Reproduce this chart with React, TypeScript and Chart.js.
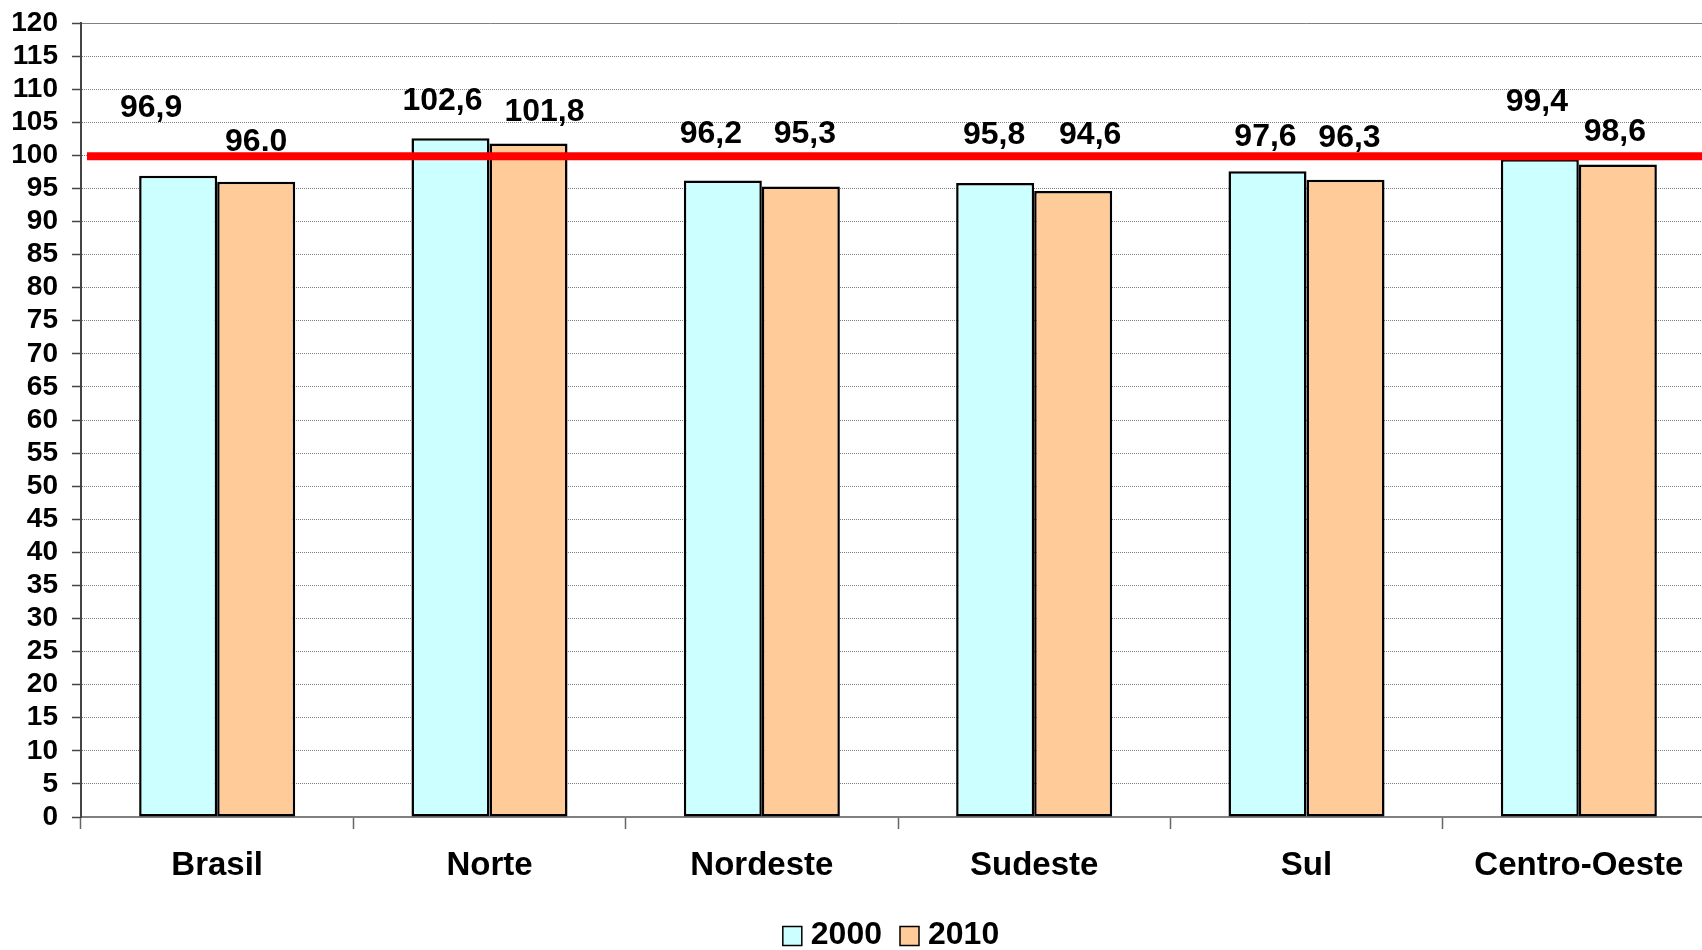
import React, { useEffect, useRef } from "react";
import { Chart, registerables } from "chart.js";

Chart.register(...registerables);

const categories = ["Brasil", "Norte", "Nordeste", "Sudeste", "Sul", "Centro-Oeste"];
const seriesNames = ["2000", "2010"];
const values2000 = [96.9, 102.6, 96.2, 95.8, 97.6, 99.4];
const values2010 = [96.0, 101.8, 95.3, 94.6, 96.3, 98.6];
const labels2000 = ["96,9", "102,6", "96,2", "95,8", "97,6", "99,4"];
const labels2010 = ["96.0", "101,8", "95,3", "94,6", "96,3", "98,6"];
const referenceValue = 100;
const yMin = 0;
const yMax = 120;
const yStep = 5;

// manual label placement (px offsets from the top-centre of each bar), as moved in the original
const labelOffset2000 = [[-27, -68], [-8, -37], [-12, -46], [-1, -48], [-2, -34], [-3, -57]];
const labelOffset2010 = [[0, -40], [16, -31], [4, -52], [17, -56], [4, -42], [-3, -32]];

const colors = ["#CCFFFF", "#FFCC99"];
const FONT = '"Liberation Sans", Arial, Helvetica, sans-serif';

const overlayPlugin = {
  id: "overlay",
  afterDatasetsDraw(chart: any) {
    const ctx = chart.ctx;
    const { left, right } = chart.chartArea;
    ctx.save();
    ctx.font = `bold 32px ${FONT}`;
    ctx.fillStyle = "#000";
    ctx.textAlign = "center";
    ctx.textBaseline = "middle";
    [labels2000, labels2010].forEach((labs, di) => {
      const meta = chart.getDatasetMeta(di);
      const offs = di === 0 ? labelOffset2000 : labelOffset2010;
      meta.data.forEach((bar: any, i: number) => {
        ctx.fillText(labs[i], bar.x + offs[i][0], bar.y + offs[i][1]);
      });
    });
    const yr = chart.scales.y.getPixelForValue(referenceValue) + 1;
    ctx.strokeStyle = "#FF0000";
    ctx.lineWidth = 8;
    ctx.beginPath();
    ctx.moveTo(left + 6, yr);
    ctx.lineTo(right, yr);
    ctx.stroke();
    ctx.restore();
  },
  afterDraw(chart: any) {
    const ctx = chart.ctx;
    const { left, right } = chart.chartArea;
    ctx.save();
    ctx.font = `bold 32px ${FONT}`;
    ctx.textBaseline = "middle";
    ctx.textAlign = "left";
    const box = 19;
    const gapText = 9;
    const gapItem = 18;
    const widths = seriesNames.map((s) => ctx.measureText(s).width);
    const total = widths.reduce((a, w) => a + box + gapText + w, 0) + gapItem * (seriesNames.length - 1);
    let x = (left + right) / 2 - 7 - total / 2;
    const yc = chart.height - 15;
    seriesNames.forEach((s, i) => {
      ctx.fillStyle = colors[i];
      ctx.fillRect(x, yc - box / 2 + 1, box, box);
      ctx.strokeStyle = "#000";
      ctx.lineWidth = 1.5;
      ctx.strokeRect(x, yc - box / 2 + 1, box, box);
      ctx.fillStyle = "#000";
      ctx.fillText(s, x + box + gapText, yc);
      x += box + gapText + widths[i] + gapItem;
    });
    ctx.restore();
  },
};

export default function App() {
  const ref = useRef<HTMLCanvasElement | null>(null);

  useEffect(() => {
    document.body.style.margin = "0";
    document.body.style.overflow = "hidden";
    document.documentElement.style.overflow = "hidden";
    const canvas = ref.current;
    if (!canvas) return;
    const chart = new Chart(canvas, {
      type: "bar",
      data: {
        labels: categories,
        datasets: [
          {
            label: seriesNames[0],
            data: values2000,
            backgroundColor: colors[0],
            borderColor: "#000",
            borderWidth: 2.5,
            borderSkipped: false,
            categoryPercentage: 0.573,
            barPercentage: 1.0,
          },
          {
            label: seriesNames[1],
            data: values2010,
            backgroundColor: colors[1],
            borderColor: "#000",
            borderWidth: 2.5,
            borderSkipped: false,
            categoryPercentage: 0.573,
            barPercentage: 1.0,
          },
        ],
      },
      options: {
        responsive: false,
        animation: false,
        devicePixelRatio: 1,
        layout: { padding: { top: 23, right: 1, left: 0, bottom: 0 } },
        plugins: {
          legend: { display: false },
          tooltip: { enabled: false },
        },
        scales: {
          x: {
            type: "category",
            offset: true,
            grid: {
              display: true,
              drawOnChartArea: false,
              offset: true,
              drawTicks: true,
              tickLength: 12,
              tickColor: "#666",
              tickWidth: 1.5,
            },
            border: { display: true, color: "#808080", width: 2 },
            ticks: {
              color: "#000",
              font: { family: FONT, size: 33, weight: "bold" },
              padding: 17,
              maxRotation: 0,
              autoSkip: false,
            },
            afterFit(scale: any) {
              scale.height = 133;
              scale.paddingLeft = 0;
              scale.paddingRight = 0;
            },
          },
          y: {
            min: yMin,
            max: yMax,
            grid: {
              color: "#808080",
              lineWidth: 1,
              drawTicks: true,
              tickLength: 9,
              tickColor: "#444",
              tickWidth: 1.5,
              tickBorderDash: [],
            },
            border: {
              display: true,
              color: "#444",
              width: 2,
              dash: (c: any) => (c.tick && c.tick.value === yMax ? [] : [1, 1]),
            },
            ticks: {
              stepSize: yStep,
              autoSkip: false,
              color: "#000",
              font: { family: FONT, size: 28, weight: "bold" },
              padding: 14,
            },
            afterFit(scale: any) {
              scale.width = 81;
              scale.paddingTop = 0;
              scale.paddingBottom = 0;
            },
          },
        },
      },
      plugins: [overlayPlugin],
    } as any);
    return () => chart.destroy();
  }, []);

  return (
    <div style={{ width: 1716, height: 950, overflow: "hidden" }}>
      <canvas ref={ref} width={1716} height={950} style={{ display: "block" }} />
    </div>
  );
}
